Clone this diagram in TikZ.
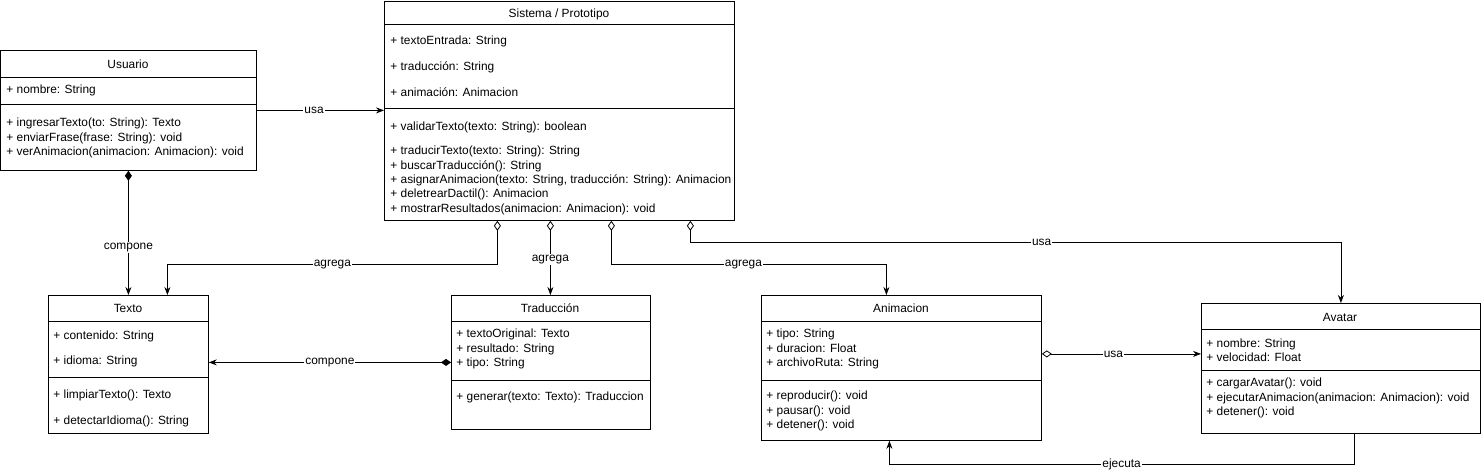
\documentclass[tikz,border=0pt]{standalone}
\usepackage{fontspec}
\setmainfont{Liberation Sans}
\usetikzlibrary{arrows.meta}

\begin{document}
\begin{tikzpicture}[x=1pt,y=-1pt,
			>={Stealth[length=8pt,width=6pt]},
			line width=0.8pt,
			font=\fontsize{11.9}{14.3}\selectfont,
			classbox/.style={
				draw,
				anchor=north west,
				inner sep=0pt
			},
			classname/.style={inner sep=0pt},
			member/.style={anchor=west,align=left,inner sep=0pt,yshift=-1pt},
			lbl/.style={fill=white,inner sep=1pt},
			agg/.style={{Diamond[open,length=10pt,width=7pt]}->},
			comp/.style={{Diamond[length=10pt,width=7pt]}->}]
			
			\useasboundingbox (0,0) rectangle (1482,474);
			
			% classes
			\node(usuario)[classbox,minimum width=256,minimum height=120] at (0,50){};
			
			\node(sistema)[classbox,minimum width=350,minimum height=219] at (384,1){};
			
			\node(texto)[classbox,minimum width=160,minimum height=138] at (48,295){};
			
			\node(traduccion)[classbox,minimum width=199,minimum height=134] at (451,295){};
			
			\node(animacion)[classbox,minimum width=280,minimum height=145] at (761,295){};
			
			\node(avatar)[classbox,minimum width=279,minimum height=130] at (1201,303){};
			
			% Usuario
			\node(usuarioname)[classname] at (128,64){Usuario};
			\draw([yshift=-27pt]usuario.north west)--([yshift=-27pt]usuario.north east);
			\node(usuarioattr)[member] at (6,89){+ nombre: String};
			\draw([yshift=-54pt]usuario.north west)--([yshift=-54pt]usuario.north east);
			\node(usuarioops)[member] at (6,137){+ ingresarTexto(to: String): Texto\\+ enviarFrase(frase: String): void\\+ verAnimacion(animacion: Animacion): void};
			
			% Sistema / Prototipo
			\node(sistemaname)[classname] at (559,14){Sistema / Prototipo};
			\draw([yshift=-23pt]sistema.north west)--([yshift=-23pt]sistema.north east);
			\node(sistemaentrada)[member] at (390,40){+ textoEntrada: String};
			\node(sistematrad)[member] at (390,66){+ traducción: String};
			\node(sistemaanim)[member] at (390,91){+ animación: Animacion};
			\draw([yshift=-107pt]sistema.north west)--([yshift=-107pt]sistema.north east);
			\node(sistemavalidar)[member] at (390,126){+ validarTexto(texto: String): boolean};
			\node(sistemaops)[member] at (390,179.5){+ traducirTexto(texto: String): String\\+ buscarTraducción(): String\\+ asignarAnimacion(texto: String, traducción: String): Animacion\\+ deletrearDactil(): Animacion\\+ mostrarResultados(animacion: Animacion): void};
			
			% Texto
			\node(textoname)[classname] at (128,308){Texto};
			\draw([yshift=-26pt]texto.north west)--([yshift=-26pt]texto.north east);
			\node(textocont)[member] at (53,335){+ contenido: String};
			\node(textoidioma)[member] at (53,360){+ idioma: String};
			\draw([yshift=-82pt]texto.north west)--([yshift=-82pt]texto.north east);
			\node(textolimpiar)[member] at (53,394){+ limpiarTexto(): Texto};
			\node(textodetectar)[member] at (53,420){+ detectarIdioma(): String};
			
			% Traduccion
			\node(traduccionname)[classname] at (550,308){Traducción};
			\draw([yshift=-26pt]traduccion.north west)--([yshift=-26pt]traduccion.north east);
			\node(traduccionattr)[member] at (456,348){+ textoOriginal: Texto\\+ resultado: String\\+ tipo: String};
			\draw([yshift=-85pt]traduccion.north west)--([yshift=-85pt]traduccion.north east);
			\node(traduccionops)[member] at (456,396){+ generar(texto: Texto): Traduccion};
			
			% Animacion
			\node(animacionname)[classname] at (901,308){Animacion};
			\draw([yshift=-26pt]animacion.north west)--([yshift=-26pt]animacion.north east);
			\node(animacionattr)[member] at (766,348){+ tipo: String\\+ duracion: Float\\+ archivoRuta: String};
			\draw([yshift=-85pt]animacion.north west)--([yshift=-85pt]animacion.north east);
			\node(animacionops)[member] at (766,410){+ reproducir(): void\\+ pausar(): void\\+ detener(): void};
			
			% Avatar
			\node(avatarname)[classname] at (1340,317){Avatar};
			\draw([yshift=-26pt]avatar.north west)--([yshift=-26pt]avatar.north east);
			\node(avatarattr)[member] at (1206,349){+ nombre: String\\+ velocidad: Float};
			\draw([yshift=-67pt]avatar.north west)--([yshift=-67pt]avatar.north east);
			\node(avatarops)[member] at (1206,397){+ cargarAvatar(): void\\+ ejecutarAnimacion(animacion: Animacion): void\\+ detener(): void};
			
			% relations
			\draw[->](usuario.east)--node[lbl,pos=0.45]{usa}(sistema.west |- usuario.east);
			
			\draw[comp](usuario.south)--node[lbl,pos=0.62]{compone}(texto.north);
			
			\draw[agg]([xshift=-62pt]sistema.south)--++(0,44)-|node[lbl,pos=0.25]{agrega}([xshift=39pt]texto.north);
			
			\draw[agg]([xshift=-9pt]sistema.south)--node[lbl,pos=0.52]{agrega}([xshift=-9pt]sistema.south |- traduccion.north);
			
			\draw[agg]([xshift=52pt]sistema.south)--++(0,44)-|node[lbl,pos=0.24]{agrega}([xshift=-15pt]animacion.north);
			
			\draw[agg]([xshift=131pt]sistema.south)--++(0,22)-|node[lbl,pos=0.27]{usa}(avatar.north);
			
			\draw[comp](traduccion.west)--node[lbl]{compone}(traduccion.west -| texto.east);
			
			\draw[agg]([yshift=14pt]animacion.east)--node[lbl,pos=0.45]{usa}([yshift=14pt]animacion.east -| avatar.west);
			
			\draw[->]([xshift=13pt]avatar.south)--++(0,31)-|node[lbl,pos=0.25]{ejecuta}([xshift=-12pt]animacion.south);
			
		\end{tikzpicture}
\end{document}
